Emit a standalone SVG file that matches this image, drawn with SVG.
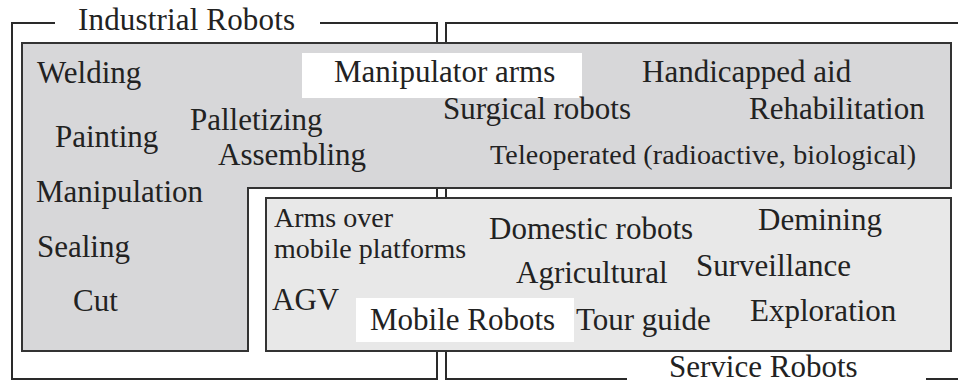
<svg xmlns="http://www.w3.org/2000/svg" width="958" height="385" viewBox="0 0 958 385">
<style>
text{font-family:"Liberation Serif","Times New Roman",serif;font-size:31px;fill:#222}
.sm{font-size:28px}
.frame{fill:none;stroke:#2a2a2a;stroke-width:2}
.box{stroke:#333;stroke-width:2}
.dark{fill:#d7d7d9}
.light{fill:#e8e8e8}
.tag{fill:#fff}
</style>
<rect width="958" height="385" fill="#fff"/>
<g id="connectors">
<polyline class="frame" points="55,23 12,23 12,379 437,379 437,23 320,23"/>
<polyline class="frame" points="958,23 446,23 446,379 627,379"/>
<line class="frame" x1="926" y1="379" x2="958" y2="379"/>
</g>
<g id="industrial-robots">
<text x="78" y="30" textLength="217">Industrial Robots</text>
</g>
<g id="service-robots">
<text x="669" y="377" font-size="30">Service Robots</text>
</g>
<g id="manipulator-arms">
<path class="box dark" d="M22,43 H951 V188 H248 V351 H22 Z"/>
<rect class="tag" x="302" y="53" width="280" height="45"/>
<text x="334" y="82">Manipulator arms</text>
<text x="37" y="83">Welding</text>
<text x="642" y="82">Handicapped aid</text>
<text x="190" y="130">Palletizing</text>
<text x="55" y="147">Painting</text>
<text x="443" y="119">Surgical robots</text>
<text x="749" y="119">Rehabilitation</text>
<text x="218" y="165">Assembling</text>
<text class="sm" x="490" y="164" textLength="426">Teleoperated (radioactive, biological)</text>
<text x="36" y="202">Manipulation</text>
<text x="37" y="257">Sealing</text>
<text x="73" y="311">Cut</text>
</g>
<g id="mobile-robots">
<rect class="box light" x="266" y="198" width="685" height="153"/>
<rect class="tag" x="356" y="298" width="218" height="44"/>
<text x="370" y="330">Mobile Robots</text>
<text class="sm" x="274" y="227">Arms over</text>
<text class="sm" x="274" y="258">mobile platforms</text>
<text x="489" y="239">Domestic robots</text>
<text x="758" y="230">Demining</text>
<text x="696" y="276">Surveillance</text>
<text x="516" y="283">Agricultural</text>
<text x="272" y="310">AGV</text>
<text x="750" y="321">Exploration</text>
<text x="576" y="330">Tour guide</text>
</g>
</svg>
